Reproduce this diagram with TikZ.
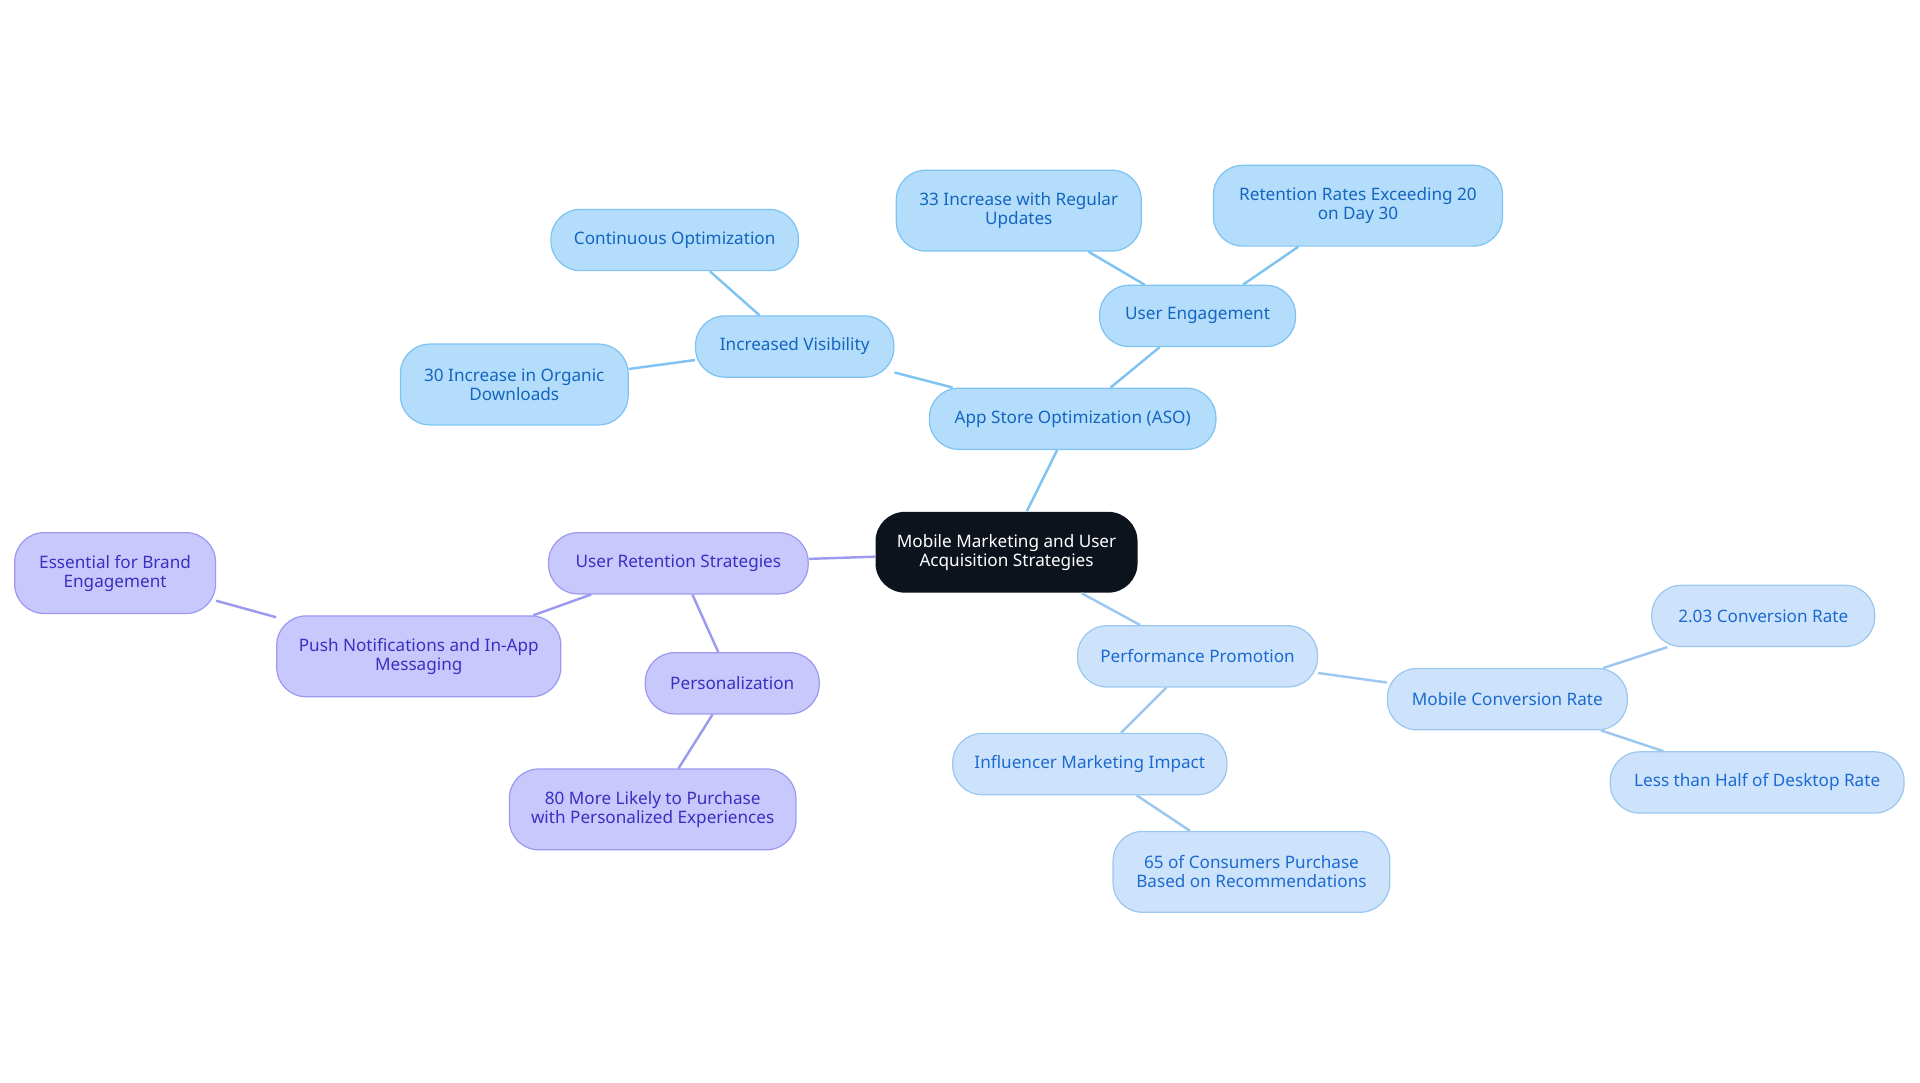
\documentclass[tikz,border=0pt]{standalone}
\usepackage{fontspec}
\setmainfont{Noto Sans}
\begin{document}
\begin{tikzpicture}[x=0.5pt,y=-0.5pt,
 base/.style={rounded corners=12pt,align=center,inner sep=0pt,font=\fontsize{7}{7.8}\selectfont,line width=0.5pt},
 bb/.style={base,fill=bfill,draw=bdraw,text=btext},
 pp/.style={base,fill=pfill,draw=pdraw,text=ptext},
 ll/.style={base,fill=lfill,draw=ldraw,text=ltext},
 bl/.style={draw=bline,line width=1pt},
 pl/.style={draw=pline,line width=1pt},
 llin/.style={draw=lline,line width=1pt}]
\definecolor{bfill}{HTML}{B3DDFB}\definecolor{bdraw}{HTML}{7EC3F2}\definecolor{btext}{HTML}{1565C0}
\definecolor{pfill}{HTML}{C9C8FC}\definecolor{pdraw}{HTML}{9C9AF0}\definecolor{ptext}{HTML}{3A2FC0}
\definecolor{lfill}{HTML}{CDE3FB}\definecolor{ldraw}{HTML}{9CC7F0}\definecolor{ltext}{HTML}{1C6AD0}
\definecolor{bline}{HTML}{7EC3F2}\definecolor{pline}{HTML}{9C9AF0}\definecolor{lline}{HTML}{9CC7F0}
\useasboundingbox (0,0) rectangle (1568,884);
\def\nd#1#2#3#4#5#6#7{\node[#1,minimum width=#5*0.5pt,minimum height=#6*0.5pt] (#2) at (#3,#4) {#7};}
\nd{bb}{aso}{876}{342}{234}{50}{App Store Optimization (ASO)}
\nd{bb}{iv}{649}{283}{162}{50}{Increased Visibility}
\nd{bb}{co}{551}{196}{202}{50}{Continuous Optimization}
\nd{bb}{od}{420}{314}{186}{66}{30 Increase in Organic\\Downloads}
\nd{bb}{ue}{978}{258}{160}{50}{User Engagement}
\nd{bb}{ru}{832}{172}{200}{66}{33 Increase with Regular\\Updates}
\nd{bb}{rr}{1109}{168}{236}{66}{Retention Rates Exceeding 20\\on Day 30}
\nd{pp}{urs}{554}{460}{212}{50}{User Retention Strategies}
\nd{pp}{pn}{342}{536}{232}{66}{Push Notifications and In-App\\Messaging}
\nd{pp}{eb}{94}{468}{164}{66}{Essential for Brand\\Engagement}
\nd{pp}{pe}{598}{558}{142}{50}{Personalization}
\nd{pp}{ml}{533}{661}{234}{66}{80 More Likely to Purchase\\with Personalized Experiences}
\nd{ll}{pp2}{978}{536}{196}{50}{Performance Promotion}
\nd{ll}{mc}{1231}{571}{196}{50}{Mobile Conversion Rate}
\nd{ll}{cr}{1440}{503}{182}{50}{2.03 Conversion Rate}
\nd{ll}{lh}{1435}{639}{240}{50}{Less than Half of Desktop Rate}
\nd{ll}{im}{890}{624}{224}{50}{Influencer Marketing Impact}
\nd{ll}{pc}{1022}{712}{226}{66}{65 of Consumers Purchase\\Based on Recommendations}
\begin{scope}[on background layer/.style={}]
\end{scope}
\node[base,fill=black!85!blue!40!black,fill={rgb,255:red,13;green,19;blue,28},text=white,minimum width=107pt,minimum height=33pt] (c) at (822,451) {Mobile Marketing and User\\Acquisition Strategies};
\begin{scope}[shorten <=0pt]
\end{scope}
\path[bl] (c) -- (aso); \path[bl] (aso) -- (iv); \path[bl] (iv) -- (co); \path[bl] (iv) -- (od);
\path[bl] (aso) -- (ue); \path[bl] (ue) -- (ru); \path[bl] (ue) -- (rr);
\path[pl] (c) -- (urs); \path[pl] (urs) -- (pn); \path[pl] (pn) -- (eb); \path[pl] (urs) -- (pe); \path[pl] (pe) -- (ml);
\path[llin] (c) -- (pp2); \path[llin] (pp2) -- (mc); \path[llin] (mc) -- (cr); \path[llin] (mc) -- (lh); \path[llin] (pp2) -- (im); \path[llin] (im) -- (pc);
\end{tikzpicture}
\end{document}
